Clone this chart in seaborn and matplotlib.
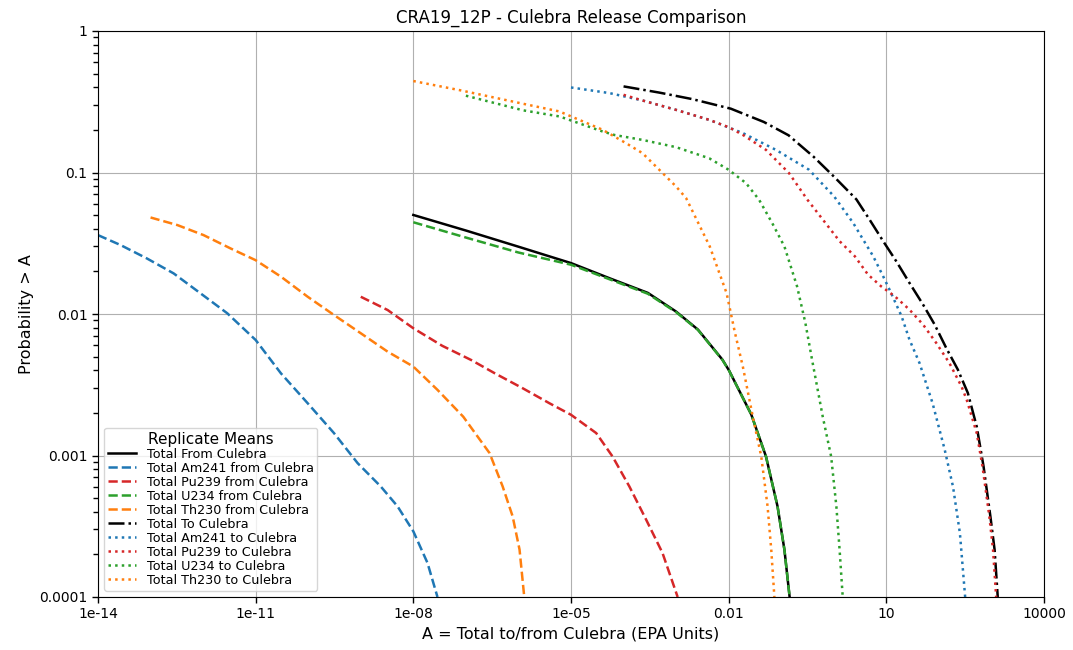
import matplotlib
matplotlib.use("Agg")
import matplotlib.pyplot as plt
from matplotlib.ticker import NullLocator, FixedLocator, FixedFormatter
import seaborn as sns

# ---- Replicate-mean CCDF data (A in EPA units, P(release > A)) ----
tot_from_x = [1.0e-08, 1.0e-07, 1.0e-06, 1.0e-05, 5.4e-05, 2.9e-04, 1.0e-03, 2.6e-03,
              7.6e-03, 1.02e-02, 2.69e-02, 5.13e-02, 8.51e-02, 0.115, 0.1445]
tot_from_y = [0.0501, 0.0389, 0.0299, 0.0229, 0.0179, 0.0141, 0.0104, 0.00776,
              0.00476, 0.00398, 0.00195, 0.000984, 0.000437, 0.000216, 0.0001]

am_from_x = [1.0e-14, 2.69e-14, 8.51e-14, 2.75e-13, 8.91e-13, 2.88e-12, 1.0e-11,
             3.02e-11, 9.77e-11, 3.09e-10, 8.71e-10, 2.40e-09, 5.01e-09, 1.0e-08,
             1.86e-08, 2.88e-08]
am_from_y = [0.0361, 0.0307, 0.0247, 0.01936, 0.0140, 0.01012, 0.00655, 0.00381,
             0.00234, 0.00144, 0.000883, 0.000604, 0.000437, 0.000291, 0.000174, 0.0001]

pu_from_x = [1.0e-09, 3.24e-09, 1.0e-08, 3.55e-08, 1.26e-07, 3.55e-07, 1.20e-06,
             3.89e-06, 1.0e-05, 3.02e-05, 6.17e-05, 1.29e-04, 2.69e-04, 5.50e-04, 1.07e-03]
pu_from_y = [0.01324, 0.01067, 0.00793, 0.00596, 0.00473, 0.00381, 0.00299, 0.00234,
             0.00194, 0.00144, 0.000984, 0.000604, 0.000352, 0.000205, 0.0001]

u_from_x = [1.0e-08, 1.0e-07, 1.0e-06, 1.0e-05, 5.4e-05, 2.9e-04, 1.0e-03, 2.6e-03,
            7.6e-03, 1.02e-02, 2.69e-02, 5.13e-02, 8.51e-02, 0.115, 0.1445]
u_from_y = [0.0445, 0.0347, 0.0272, 0.0223, 0.0176, 0.0139, 0.0103, 0.00772,
            0.00474, 0.00397, 0.00195, 0.000984, 0.000437, 0.000216, 0.0001]

th_from_x = [1.0e-13, 3.24e-13, 1.02e-12, 3.31e-12, 1.0e-11, 3.02e-11, 9.77e-11,
             3.09e-10, 1.0e-09, 3.24e-09, 1.0e-08, 2.88e-08, 8.91e-08, 2.82e-07,
             5.01e-07, 7.76e-07, 1.05e-06, 1.29e-06]
th_from_y = [0.0481, 0.0425, 0.0361, 0.0291, 0.0240, 0.01837, 0.01324, 0.00984,
             0.00731, 0.00542, 0.00425, 0.00291, 0.00188, 0.00104, 0.000604, 0.000371,
             0.000216, 0.0001]

tot_to_x = [1.0e-04, 4.79e-04, 2.04e-03, 1.1e-02, 4.68e-02, 0.138, 0.417, 1.02, 2.69,
            4.79, 8.71, 15.5, 27.5, 50.1, 83.2, 138, 229, 355, 525, 708, 955, 1148, 1318]
tot_to_y = [0.406, 0.367, 0.330, 0.2825, 0.2275, 0.1832, 0.1288, 0.0931, 0.0646,
            0.0465, 0.0327, 0.02355, 0.0166, 0.01164, 0.00841, 0.00575, 0.00405,
            0.00277, 0.0016, 0.000836, 0.000371, 0.000216, 0.0001]

am_to_x = [1.0e-05, 5.4e-05, 2.29e-04, 1.0e-03, 4.27e-03, 0.0186, 0.0794, 0.339, 1.02,
           2.34, 3.63, 5.62, 8.71, 11.5, 19.5, 27.5, 42.7, 75.9, 129, 186, 251, 316]
am_to_y = [0.399, 0.364, 0.323, 0.277, 0.2355, 0.190, 0.1445, 0.1045, 0.0676,
           0.0440, 0.0335, 0.0256, 0.01845, 0.01486, 0.00964, 0.0066, 0.00451,
           0.00234, 0.0011, 0.0006, 0.000283, 0.0001]

pu_to_x = [1.0e-04, 2.29e-04, 1.0e-03, 4.27e-03, 1.0e-02, 0.0186, 0.0513, 0.141, 0.316,
           1.29, 2.51, 4.47, 7.94, 14.5, 27.5, 50.1, 89.1, 158, 269, 339, 525, 676,
           912, 1072, 1230]
pu_to_y = [0.354, 0.323, 0.277, 0.2355, 0.209, 0.1845, 0.1445, 0.0989, 0.0641,
           0.0327, 0.0256, 0.0190, 0.0157, 0.01334, 0.01074, 0.00841, 0.00624,
           0.00451, 0.00308, 0.00247, 0.00144, 0.000836, 0.000371, 0.000216, 0.0001]

u_to_x = [1.0e-07, 1.23e-06, 6.03e-06, 3.98e-05, 6.76e-05, 2.29e-04, 1.0e-03, 4.27e-03,
          1.0e-02, 0.0214, 0.038, 0.0676, 0.115, 0.2, 0.288, 0.389, 0.617, 0.891, 1.12,
          1.29, 1.48]
u_to_y = [0.349, 0.275, 0.249, 0.195, 0.184, 0.170, 0.151, 0.126, 0.1045, 0.0841,
          0.0641, 0.0438, 0.030, 0.0157, 0.00865, 0.00468, 0.00188, 0.000984, 0.000437,
          0.000216, 0.0001]

th_to_x = [1.0e-08, 8.13e-08, 1.23e-06, 6.03e-06, 3.98e-05, 1.12e-04, 2.29e-04, 4.79e-04,
           1.0e-03, 1.55e-03, 4.37e-03, 9.12e-03, 0.0132, 0.0186, 0.0288, 0.0417, 0.055,
           0.0646, 0.0741]
th_to_y = [0.443, 0.380, 0.306, 0.270, 0.2005, 0.161, 0.137, 0.1045, 0.0796, 0.0659,
           0.030, 0.01406, 0.00735, 0.00425, 0.00188, 0.000984, 0.000437, 0.000216, 0.0001]

labels = ["Total From Culebra", "Total Am241 from Culebra", "Total Pu239 from Culebra",
          "Total U234 from Culebra", "Total Th230 from Culebra", "Total To Culebra",
          "Total Am241 to Culebra", "Total Pu239 to Culebra", "Total U234 to Culebra",
          "Total Th230 to Culebra"]

x_tick_vals = [1e-14, 1e-11, 1e-08, 1e-05, 1e-02, 1e1, 1e4]
x_tick_labels = ["1e-14", "1e-11", "1e-08", "1e-05", "0.01", "10", "10000"]
y_tick_vals = [1e-4, 1e-3, 1e-2, 1e-1, 1.0]
y_tick_labels = ["0.0001", "0.001", "0.01", "0.1", "1"]
# minor y ticks: 2..9 times each decade
y_minor_vals = [m * d for d in (1e-4, 1e-3, 1e-2, 1e-1) for m in range(2, 10)]

# ---- drawing ----
blue, orange, green, red = "#1f77b4", "#ff7f0e", "#2ca02c", "#d62728"
series = [
    (tot_from_x, tot_from_y, "black", "-"),
    (am_from_x, am_from_y, blue, "--"),
    (pu_from_x, pu_from_y, red, "--"),
    (u_from_x, u_from_y, green, "--"),
    (th_from_x, th_from_y, orange, "--"),
    (tot_to_x, tot_to_y, "black", "-."),
    (am_to_x, am_to_y, blue, ":"),
    (pu_to_x, pu_to_y, red, ":"),
    (u_to_x, u_to_y, green, ":"),
    (th_to_x, th_to_y, orange, ":"),
]

fig = plt.figure(figsize=(10.73, 6.5), dpi=100)
ax = fig.add_axes([98 / 1073, 1 - 597 / 650, (1044 - 98) / 1073, (597 - 31) / 650])
ax.set_xscale("log")
ax.set_yscale("log")

for (xs, ys, col, ls), lab in zip(series, labels):
    sns.lineplot(x=xs, y=ys, ax=ax, color=col, linestyle=ls, linewidth=1.8,
                 label=lab, sort=False, estimator=None)

ax.set_xlim(1e-14, 1e4)
ax.set_ylim(1e-4, 1)
ax.xaxis.set_major_locator(FixedLocator(x_tick_vals))
ax.xaxis.set_major_formatter(FixedFormatter(x_tick_labels))
ax.xaxis.set_minor_locator(NullLocator())
ax.yaxis.set_major_locator(FixedLocator(y_tick_vals))
ax.yaxis.set_major_formatter(FixedFormatter(y_tick_labels))
ax.yaxis.set_minor_locator(FixedLocator(y_minor_vals))
ax.tick_params(which="major", labelsize=10, length=4, width=1)
ax.tick_params(axis="y", which="minor", left=True, length=3.5, width=1,
               color="black")
ax.grid(True, which="major", color="#b0b0b0", linewidth=0.8)
ax.set_axisbelow(True)

ax.set_title("CRA19_12P - Culebra Release Comparison", fontsize=12)
ax.set_xlabel("A = Total to/from Culebra (EPA Units)", fontsize=11.5)
ax.set_ylabel("Probability > A", fontsize=11.5)

ax.legend(loc="lower left", title="Replicate Means", fontsize=9.2, title_fontsize=11,
          labelspacing=0.08, borderpad=0.3, handlelength=2.2, handletextpad=0.8)

fig.savefig("out.png", dpi=100)
